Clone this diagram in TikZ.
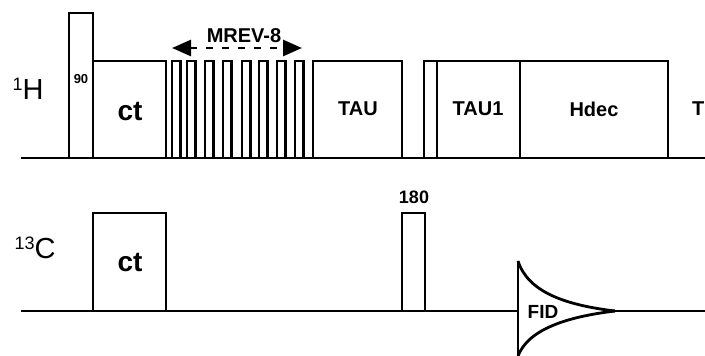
\documentclass[tikz,border=0pt]{standalone}
\usepackage{fontspec}
\setmainfont{Liberation Sans}
\usetikzlibrary{arrows.meta}
\begin{document}
\begin{tikzpicture}[x=1pt,y=-1pt,
  pl/.style={line width=2.8pt, line join=miter},
  bl/.style={font=\bfseries\fontsize{20}{24}\selectfont, inner sep=0pt},
  big/.style={font=\bfseries\fontsize{28}{32}\selectfont, inner sep=0pt},
  nuc/.style={font=\fontsize{29}{32}\selectfont, inner sep=0pt}]
\useasboundingbox (0,0) rectangle (705,356);
% 1H channel
\draw[pl] (21,158) -- (705,158);
\draw[pl] (69,158) rectangle (93,13);
\draw[pl] (93,158) rectangle (166,61);
\foreach \x in {172,187,205,223,242,259,277,295}
  \draw[pl] (\x,158) rectangle ++(8.5,-97);
\draw[pl] (313,158) rectangle (402,61);
\draw[pl] (424,158) rectangle (437,61);
\draw[pl] (437,158) rectangle (520,61);
\draw[pl] (520,158) rectangle (668,61);
\node[nuc] (h) at (28,89) {\raisebox{0.55ex}{\fontsize{18}{20}\selectfont 1}H};
\node[font=\bfseries\fontsize{13}{15}\selectfont, inner sep=0pt] (p90) at (81,79) {90};
\node[big] (ct1) at (130,112) {ct};
\node[bl] (mrev) at (244,36) {MREV-8};
\coordinate (ml) at (172,48);
\coordinate (mr) at (302,48);
\draw[line width=2.6pt, dash pattern=on 7pt off 9pt,
  {Triangle[length=19pt,width=16pt]}-{Triangle[length=19pt,width=16pt]}] (ml) -- (mr);
\node[bl] (tau) at (358,109) {TAU};
\node[bl] (tau1) at (478,109) {TAU1};
\node[bl] (hdec) at (594,109) {Hdec};
\node[bl, anchor=west] (t) at (692,109) {T};
% 13C channel
\coordinate (cs) at (21,311);
\coordinate (fa) at (518,311);
\coordinate (fb) at (615,311);
\coordinate (ce) at (705,311);
\draw[pl] (cs) -- (fa);
\draw[pl] (fb) -- (ce);
\draw[pl] (93,311) rectangle (166,213);
\draw[pl] (402,311) rectangle (425,213);
\node[nuc] (c) at (35,248) {\raisebox{0.55ex}{\fontsize{18}{20}\selectfont 13}C};
\node[big] (ct2) at (130,263) {ct};
\node[font=\bfseries\fontsize{18}{22}\selectfont, inner sep=0pt] (p180) at (414,197) {180};
\draw[pl] (518,261) -- (518,356);
\draw[pl] (518,261) .. controls (528,292) and (565,305) .. (fb);
\draw[pl] (518,356) .. controls (528,330) and (565,317) .. (fb);
\node[font=\bfseries\fontsize{19}{22}\selectfont, inner sep=0pt] (fid) at (543,312) {FID};
\end{tikzpicture}
\end{document}
